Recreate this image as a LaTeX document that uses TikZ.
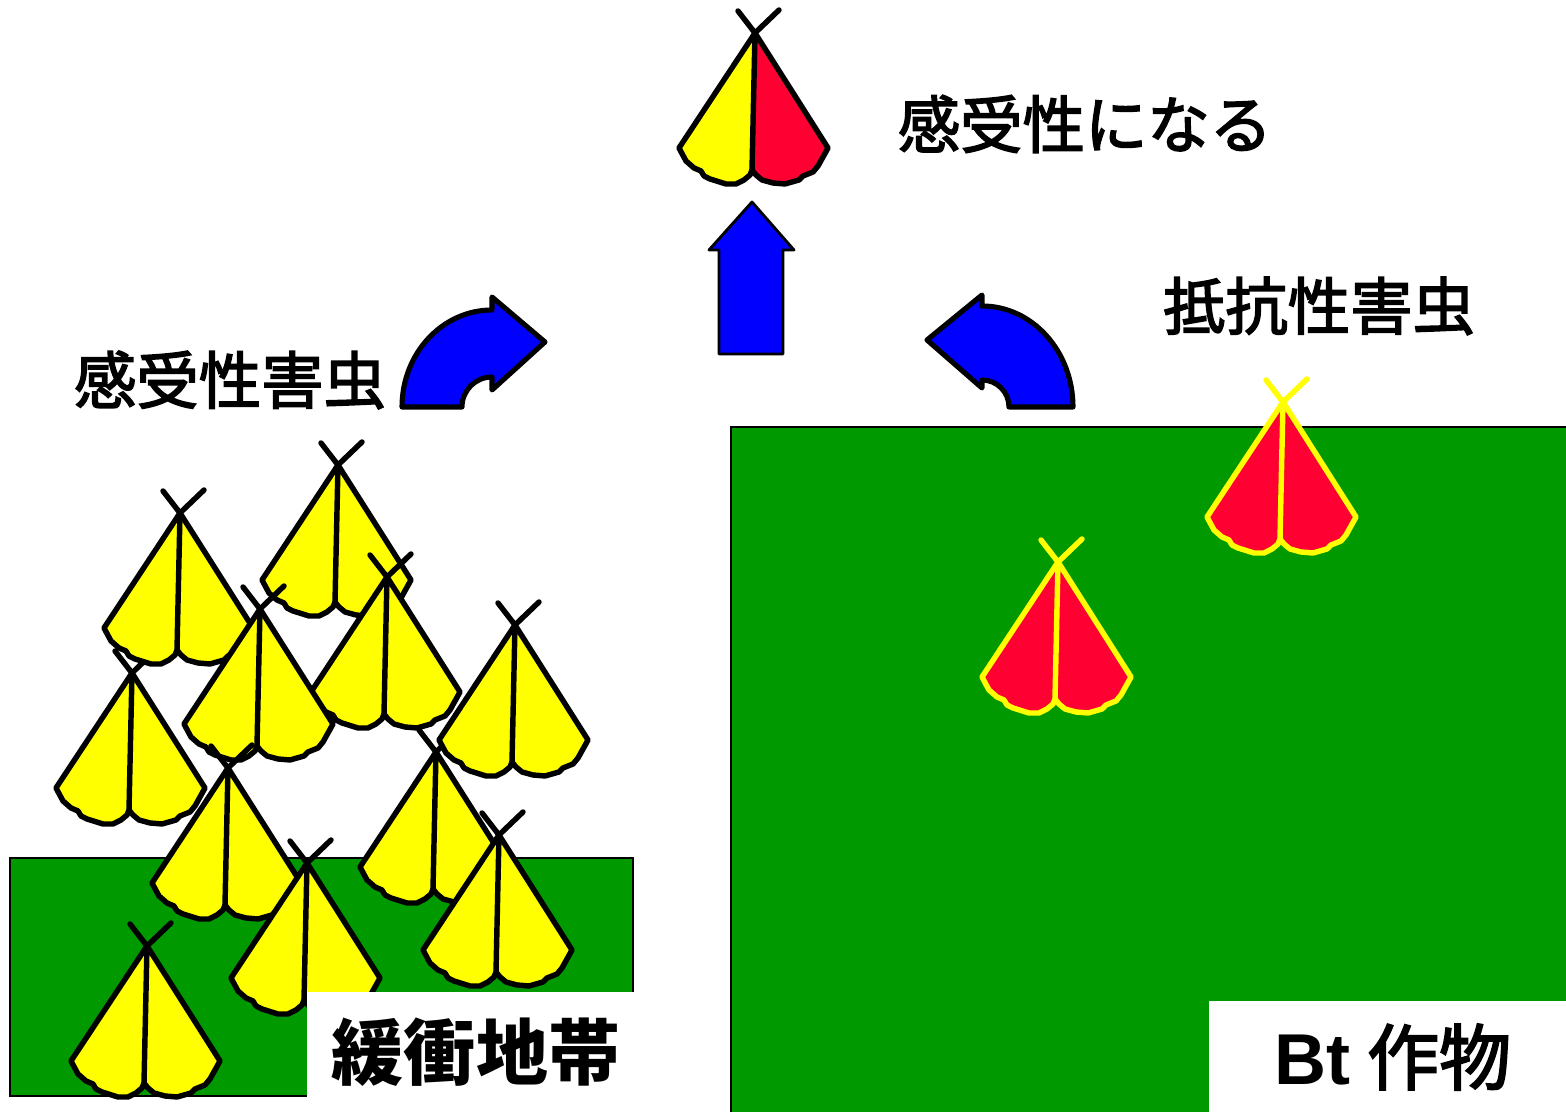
\documentclass[tikz,border=0pt]{standalone}
\usepackage{fontspec}
\usepackage{tikz}
\newfontfamily\jpfont[FakeBold=2.5]{Noto Sans CJK JP}
\newfontfamily\jpplain{Noto Sans CJK JP}
\newfontfamily\latinfont{Liberation Sans}
\definecolor{mothyellow}{RGB}{255,255,0}
\definecolor{mothred}{RGB}{255,0,51}
\definecolor{fieldgreen}{RGB}{0,153,0}
\definecolor{arrowblue}{RGB}{0,0,255}

% one moth, apex at the origin: left wing, right wing, outline
\tikzset{
  pics/moth/.style n args={3}{code={
    \fill[#1] (0,0) -- (-76,-115) -- (-69,-128) -- (-61,-135) -- (-54,-138)
      -- (-51,-143) -- (-45,-146) -- (-29,-151) -- (-19,-151) -- (-11,-147)
      -- (-5,-142) -- (-3,-137) -- cycle;
    \fill[#2] (0,0) -- (-3,-137) -- (1,-142) -- (7,-147) -- (18,-150)
      -- (30,-151) -- (44,-147) -- (48,-143) -- (53,-141) -- (58,-139)
      -- (63,-133) -- (73,-115) -- cycle;
    \draw[#3, mothline] (-17,22) -- (0,0) -- (24,23);
    \draw[#3, mothline] (0,0) -- (-76,-115) -- (-69,-128) -- (-61,-135) -- (-54,-138)
      -- (-51,-143) -- (-45,-146) -- (-29,-151) -- (-19,-151) -- (-11,-147)
      -- (-5,-142) -- (-3,-137) -- (1,-142) -- (7,-147) -- (18,-150)
      -- (30,-151) -- (44,-147) -- (48,-143) -- (53,-141) -- (58,-139)
      -- (63,-133) -- (73,-115) -- cycle;
    \draw[#3, mothline] (0,0) -- (-3,-137);
  }}
}

\begin{document}
\begin{tikzpicture}[
  x=0.02cm, y=0.02cm,
  mothline/.style={line width=3.1pt, line join=round, line cap=round},
  field/.style={fill=fieldgreen, draw=black, line width=1pt},
  blank/.style={fill=white},
  flow/.style={fill=arrowblue, draw=black, line join=round},
  lbl/.style={inner sep=0pt, font=\jpfont\fontsize{35.5pt}{40pt}\selectfont},
  tag/.style={inner sep=0pt, font=\jpfont\fontsize{41pt}{46pt}\selectfont}
]
\useasboundingbox (0,0) rectangle (1566,1112);
\clip (0,0) rectangle (1566,1112);

% refuge and Bt field
\path[field] (10,16) rectangle (633,254);
\path[field] (731,-5) rectangle (1575,685);

% susceptible moths in the refuge
\foreach \mx/\my in {436/360, 338/647, 387/535, 132/439, 180/599, 260/503,
                     515/487, 228/344, 499/277, 307/249, 147/166}
  \pic at (\mx,\my) {moth={mothyellow}{mothyellow}{black}};

% resistant moths in the Bt field
\pic at (1283,710) {moth={mothred}{mothred}{mothyellow}};
\pic at (1058,550) {moth={mothred}{mothred}{mothyellow}};

% offspring
\pic at (755,1079) {moth={mothyellow}{mothred}{black}};

% arrows
\path[flow, line width=1.6pt] (719,758) -- (783,758) -- (783,862) -- (794,862)
  -- (752,910) -- (709,862) -- (719,862) -- cycle;
\path[flow, line width=2.9pt] (402,705) arc[start angle=180, end angle=90, x radius=90, y radius=97]
  -- (492,815) -- (545,770) -- (492,722) -- (492,735)
  arc[start angle=90, end angle=180, radius=30] -- cycle;
\path[flow, line width=2.9pt] (1073,705) arc[start angle=0, end angle=90, x radius=91, y radius=101]
  -- (982,817) -- (927,772) -- (982,724) -- (982,732)
  arc[start angle=90, end angle=0, radius=27] -- cycle;

% label panels
\path[blank] (307,-5) rectangle (637,120);
\path[blank] (1209,-5) rectangle (1575,111);

\node[lbl] (offspring) at (1085,988) {感受性になる};
\node[lbl] (resistant) at (1319,806) {抵抗性害虫};
\node[lbl] (susceptible) at (230,732) {感受性害虫};
\node[tag, font=\jpplain\bfseries\fontsize{41pt}{46pt}\selectfont] (refuge) at (476,60) {緩衝地帯};
\node[tag] (crop) at (1393,55) {{\latinfont\bfseries Bt} 作物};
\end{tikzpicture}
\end{document}
